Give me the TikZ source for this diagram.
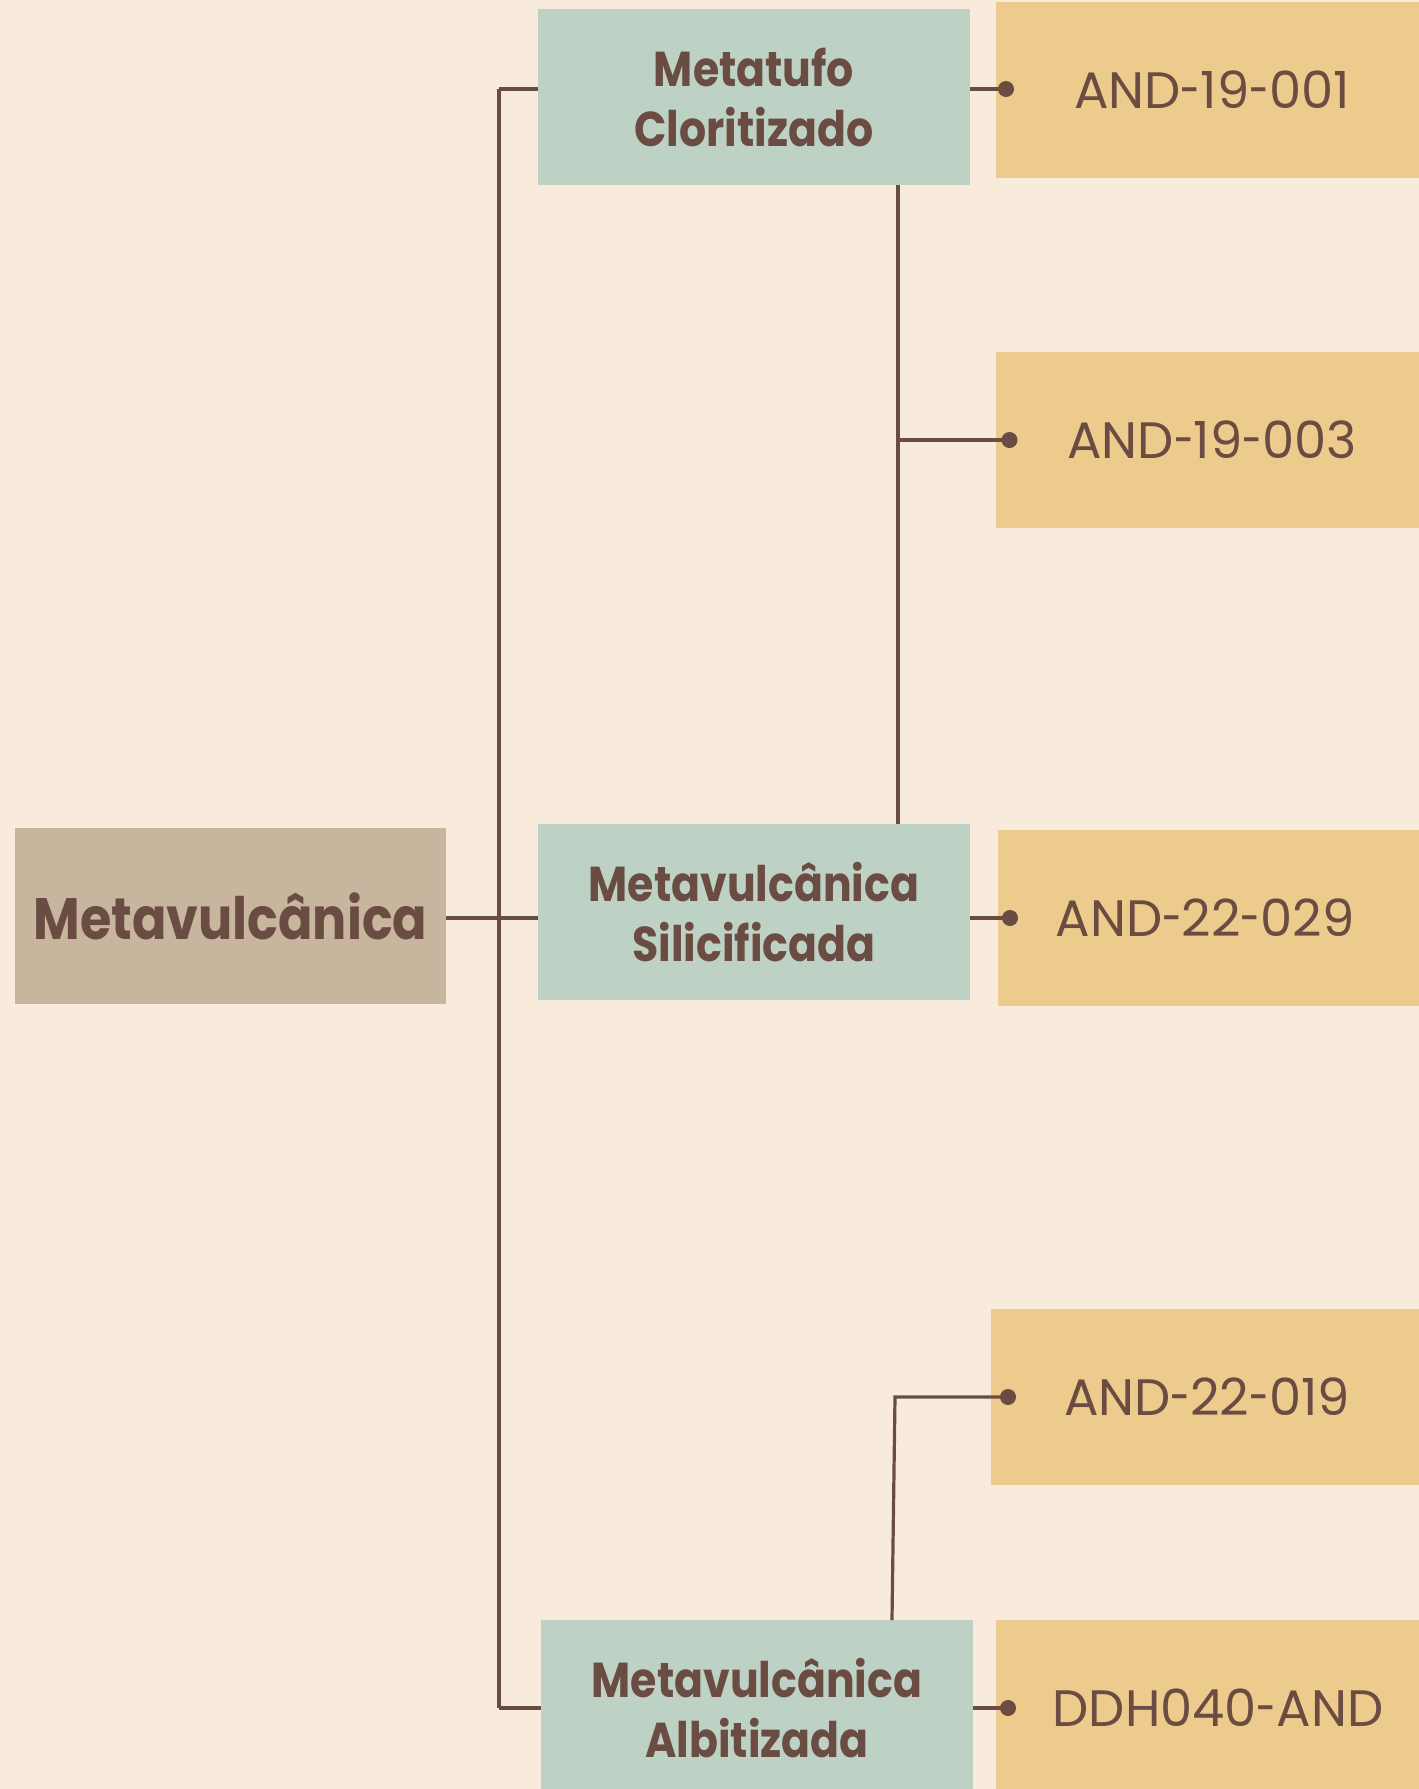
\documentclass[tikz,border=0pt]{standalone}
\usepackage{fontspec}
\usepackage{graphicx}
\setmainfont{Poppins}
\newfontfamily\catfont{Poppins}[FakeStretch=0.87]
\newcommand{\hy}{\scalebox{0.7}[1]{-}}
\definecolor{bgc}{HTML}{F8EBDC}
\definecolor{rootc}{HTML}{C8B59D}
\definecolor{greenc}{HTML}{BDD1C5}
\definecolor{yellowc}{HTML}{EDCB8C}
\definecolor{brownc}{HTML}{6B4C42}
\begin{document}
\begin{tikzpicture}[x=0.5pt,y=-0.5pt,
  box/.style={inner sep=0pt, outer sep=0pt, minimum width=216pt, minimum height=88pt, text=brownc, align=center},
  rootbox/.style={box, fill=rootc, font=\catfont\fontsize{29.2}{34}\selectfont\bfseries},
  catbox/.style={box, fill=greenc, font=\catfont\fontsize{24.5}{30}\selectfont\bfseries},
  samplebox/.style={box, fill=yellowc, font=\fontsize{25.6}{30}\selectfont},
  conn/.style={draw=brownc, line width=1.6pt},
  dotc/.style={circle, fill=brownc, inner sep=0pt, minimum size=8pt}]
\fill[bgc] (0,0) rectangle (1419,1789);
\useasboundingbox (0,0) rectangle (1419,1789);
\clip (0,0) rectangle (1419,1789);
% nodes
\node[rootbox, minimum width=215.5pt] (root) at (230.5,916) {Metavulcânica};
\node[catbox] (g1) at (754,97) {Metatufo\\Cloritizado};
\node[catbox] (g2) at (754,912) {Metavulcânica\\Silicificada};
\node[catbox] (g3) at (757,1708) {Metavulcânica\\Albitizada};
\node[samplebox] (y1) at (1212,90) {AND\hy19\hy001};
\node[samplebox] (y2) at (1212,440) {AND\hy19\hy003};
\node[samplebox] (y3) at (1214,918) {\hspace*{-9pt}AND\hy22\hy029};
\node[samplebox] (y4) at (1207,1397) {AND\hy22\hy019};
\node[samplebox] (y5) at (1212,1708) {\hspace*{6pt}DDH040\hy AND};
% spine
\coordinate (sp1) at (499,89);
\coordinate (sp3) at (499,1708);
\draw[conn] (sp1) -- (sp3);
\draw[conn] (sp1) -- (g1.west |- sp1);
\draw[conn] (root.east |- 0,918) -- (g2.west |- 0,918);
\draw[conn] (sp3) -- (g3.west |- sp3);
% sample connectors
\draw[conn] (g1.east |- sp1) -- ([xshift=5pt]y1.west |- sp1) node[dotc]{};
\coordinate (v1) at (898,0);
\draw[conn] (g1.south -| v1) -- (g2.north -| v1);
\draw[conn] (v1 |- y2.west) -- ([xshift=6.75pt]y2.west) node[dotc]{};
\draw[conn] (g2.east |- y3.west) -- ([xshift=6pt]y3.west) node[dotc]{};
\coordinate (k4) at (895,1397);
\draw[conn] ([xshift=67.5pt]g3.north) -- (k4) -- ([xshift=8.5pt]y4.west) node[dotc]{};
\draw[conn] (g3.east |- y5.west) -- ([xshift=6pt]y5.west) node[dotc]{};
\end{tikzpicture}
\end{document}
